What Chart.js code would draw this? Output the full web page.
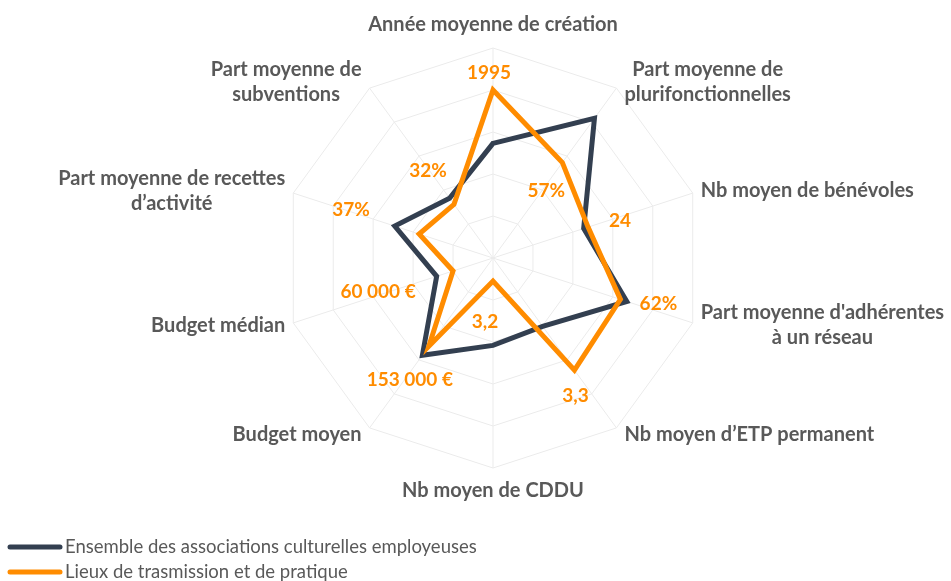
<!DOCTYPE html>
<html lang="fr">
<head>
<meta charset="utf-8">
<title>Profil des lieux de transmission et de pratique</title>
<script src="https://cdn.jsdelivr.net/npm/chart.js@4.4.1/dist/chart.umd.min.js"></script>
<style>
  html, body { margin: 0; padding: 0; background: #fff; }
  #radar { display: block; }
</style>
</head>
<body>
<canvas id="radar" width="951" height="581"></canvas>
<script>
// axes, clockwise from the top
const axes = [
  'Année moyenne de création',
  ['Part moyenne de', 'plurifonctionnelles'],
  'Nb moyen de bénévoles',
  ["Part moyenne d'adhérentes", 'à un réseau'],
  'Nb moyen d’ETP permanent',
  'Nb moyen de CDDU',
  'Budget moyen',
  'Budget médian',
  ['Part moyenne de recettes', 'd’activité'],
  ['Part moyenne de', 'subventions']
];

// indices on a 0..5 scale
const ensemble = [2.73, 4.11, 2.27, 3.35, 2.01, 2.08, 2.86, 1.41, 2.46, 1.76];
const lieux = [4.0, 2.81, 2.38, 3.19, 3.3, 0.55, 2.6, 1.0, 1.85, 1.58];

// raw values shown next to the orange series
const lieuxValues = ['1995', '57%', '24', '62%', '3,3', '3,2', '153 000 €', '60 000 €', '37%', '32%'];

const seriesNames = [
  'Ensemble des associations culturelles employeuses',
  'Lieux de trasmission et de pratique'
];

const NAVY = '#333f50';
const ORANGE = '#ff8c00';
const GREY_TEXT = '#595959';
const FONT_FAMILY = 'Lato, "Open Sans", sans-serif';

// where each value label sits relative to its point (px)
const valueOffsets = [[-4, -17], [-16, 28], [32, -6], [38, 4], [1, 26], [-8, 41], [-19, 34], [-75, 21], [-68, -24], [-26, -33]];

// axis titles around the outer ring
const axisTitles = {
  id: 'axisTitles',
  afterDraw(chart) {
    const scale = chart.scales.r;
    const ctx = chart.ctx;
    const lineH = 25;
    ctx.save();
    ctx.font = 'bold 20px ' + FONT_FAMILY;
    ctx.fillStyle = GREY_TEXT;
    ctx.textAlign = 'center';
    ctx.textBaseline = 'middle';
    chart.data.labels.forEach((label, i) => {
      const lines = [].concat(label);
      const pt = scale.getPointPositionForValue(i, scale.max);
      const a = scale.getIndexAngle(i);
      const s = Math.sin(a), c = Math.cos(a);
      const w = Math.max(...lines.map(l => ctx.measureText(l).width));
      let cx = pt.x;
      if (s > 0.1) cx = pt.x + 8 + w / 2;
      else if (s < -0.1) cx = pt.x - 8 - w / 2;
      const cy = Math.abs(s) < 0.1 ? pt.y - c * 23 : pt.y - c * 8;
      lines.forEach((l, k) => {
        ctx.fillText(l, cx, cy + (k - (lines.length - 1) / 2) * lineH);
      });
    });
    ctx.restore();
  }
};

// orange value labels
const valueLabels = {
  id: 'valueLabels',
  afterDatasetsDraw(chart) {
    const meta = chart.getDatasetMeta(1);
    const ctx = chart.ctx;
    ctx.save();
    ctx.font = 'bold 19px ' + FONT_FAMILY;
    ctx.fillStyle = ORANGE;
    ctx.textAlign = 'center';
    ctx.textBaseline = 'middle';
    meta.data.forEach((pt, i) => {
      ctx.fillText(lieuxValues[i], pt.x + valueOffsets[i][0], pt.y + valueOffsets[i][1]);
    });
    ctx.restore();
  }
};

// stacked legend, bottom left
const stackedLegend = {
  id: 'stackedLegend',
  afterDraw(chart) {
    const ctx = chart.ctx;
    ctx.save();
    ctx.font = '18.5px ' + FONT_FAMILY;
    ctx.textAlign = 'left';
    ctx.textBaseline = 'middle';
    chart.data.datasets.forEach((ds, i) => {
      const y = 547 + i * 25;
      ctx.strokeStyle = ds.borderColor;
      ctx.lineWidth = 5;
      ctx.lineCap = 'round';
      ctx.beginPath();
      ctx.moveTo(10, y);
      ctx.lineTo(60, y);
      ctx.stroke();
      ctx.fillStyle = GREY_TEXT;
      ctx.fillText(ds.label, 65, y);
    });
    ctx.restore();
  }
};

new Chart(document.getElementById('radar'), {
  type: 'radar',
  data: {
    labels: axes,
    datasets: [
      {
        label: seriesNames[0],
        data: ensemble,
        borderColor: NAVY,
        borderWidth: 5,
        borderJoinStyle: 'miter',
        fill: false,
        pointRadius: 0,
        order: 2
      },
      {
        label: seriesNames[1],
        data: lieux,
        borderColor: ORANGE,
        borderWidth: 5,
        borderJoinStyle: 'miter',
        fill: false,
        pointRadius: 0,
        order: 1
      }
    ]
  },
  options: {
    responsive: false,
    animation: false,
    layout: { padding: { left: 283, right: 248, top: 48, bottom: 113 } },
    plugins: {
      legend: { display: false },
      tooltip: { enabled: false }
    },
    scales: {
      r: {
        min: 0,
        max: 5,
        ticks: { stepSize: 1, display: false },
        grid: { color: '#ebebeb', lineWidth: 1 },
        angleLines: { color: '#ebebeb', lineWidth: 1 },
        pointLabels: { display: false }
      }
    }
  },
  plugins: [axisTitles, valueLabels, stackedLegend]
});
</script>
</body>
</html>
